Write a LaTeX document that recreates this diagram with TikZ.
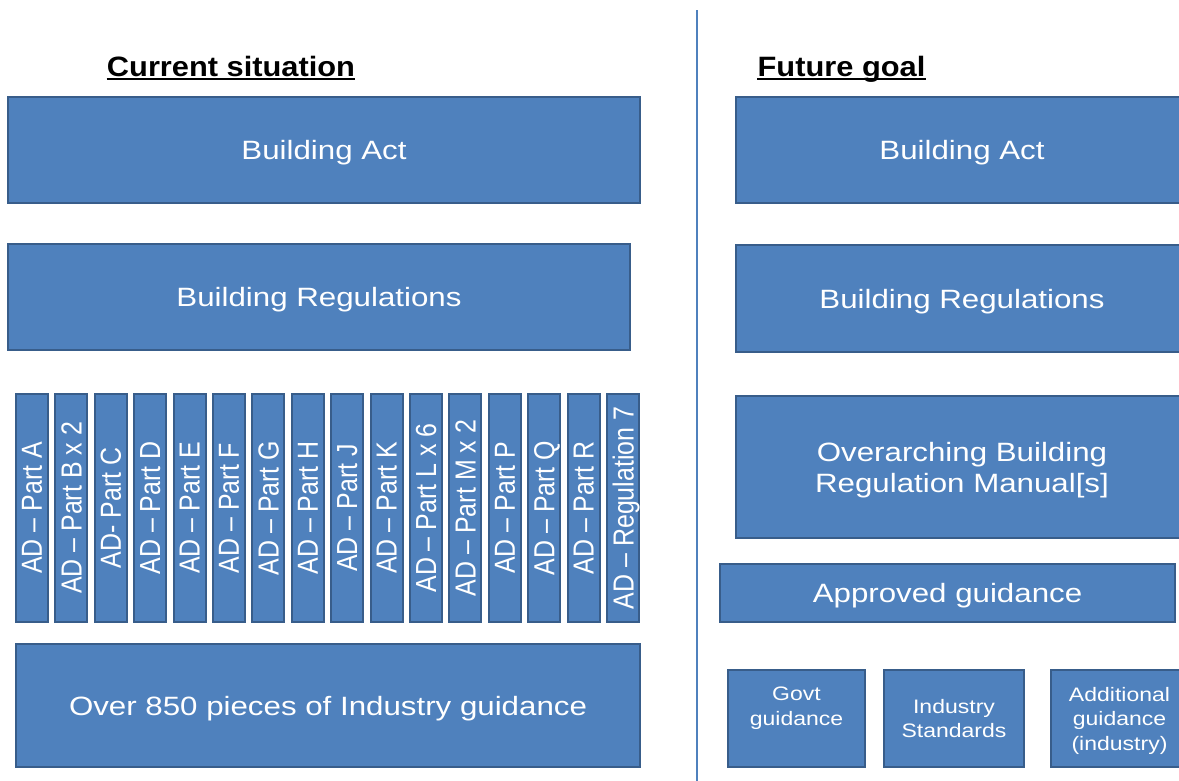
\documentclass[tikz,border=0pt]{standalone}
\usepackage{fontspec}
\setmainfont{Liberation Sans}
\newfontfamily\boxfont{Liberation Sans}[FakeStretch=1.18]
\newfontfamily\barfont{Liberation Sans}[FakeStretch=0.86]
\newfontfamily\headfont{Liberation Sans}[FakeStretch=1.1]
\definecolor{boxfill}{HTML}{4F81BD}
\definecolor{boxline}{HTML}{385D8A}
\begin{document}
\begin{tikzpicture}[x=1pt,y=-1pt,
  blk/.style={draw=boxline, fill=boxfill, line width=2pt, text=white,
    inner sep=0pt, align=center, text depth=0pt,
    font=\boxfont\fontsize{26.5}{31}\selectfont},
  bar/.style={blk, rotate=90, minimum width=228pt, minimum height=32pt,
    font=\barfont\fontsize{29}{32}\selectfont},
  small/.style={blk, minimum height=97pt, font=\boxfont\fontsize{19.5}{24.5}\selectfont},
  head/.style={anchor=base, inner sep=0pt, font=\headfont\bfseries\fontsize{28}{32}\selectfont}]
\path[use as bounding box] (0,0) rectangle (1179,780);
\clip (0,0) rectangle (1179,780);

% headings
\node[head] (cur) at (231,76) {Current situation};
\draw[line width=2pt] ([yshift=-2.5pt]cur.base west) -- ([yshift=-2.5pt]cur.base east);
\node[head] (fut) at (841.5,76) {Future goal};
\draw[line width=2pt] ([yshift=-2.5pt]fut.base west) -- ([yshift=-2.5pt]fut.base east);

% divider
\coordinate (dtop) at (697,10);
\coordinate (dbot) at (697,782);
\draw[boxfill, line width=2pt] (dtop) -- (dbot);

% left column
\node[blk, minimum width=632pt, minimum height=106pt] (actL) at (324,150) {Building Act};
\node[blk, minimum width=622pt, minimum height=106pt] (regL) at (319,297) {Building Regulations};
\foreach \t [count=\i from 0] in {AD – Part A, AD – Part B x 2, AD- Part C, AD – Part D,
  AD – Part E, AD – Part F, AD – Part G, AD – Part H, AD – Part J, AD – Part K,
  AD – Part L x 6, AD – Part M x 2, AD – Part P, AD – Part Q, AD – Part R, AD – Regulation 7}
  {\node[bar] (bar\i) at ({32+39.4*\i},508) {\t};}
\node[blk, minimum width=624pt, minimum height=123pt] (indL) at (328,705.5) {Over 850 pieces of Industry guidance};

% right column
\node[blk, minimum width=452pt, minimum height=106pt] (actR) at (962,150) {Building Act};
\node[blk, minimum width=452pt, minimum height=107pt] (regR) at (962,298.5) {Building Regulations};
\node[blk, minimum width=452pt, minimum height=142pt] (ovR) at (962,467) {Overarching Building\\Regulation Manual[s]};
\node[blk, minimum width=455pt, minimum height=58pt] (appR) at (947.5,593) {Approved guidance};
\node[small, minimum width=137pt] (govt) at (796.5,718.5) {Govt\\guidance\\~};
\node[small, minimum width=140pt] (istd) at (954,718.5) {Industry\\Standards};
\node[small, minimum width=137pt] (addl) at (1119.5,718.5) {Additional\\guidance\\(industry)};
\end{tikzpicture}
\end{document}
